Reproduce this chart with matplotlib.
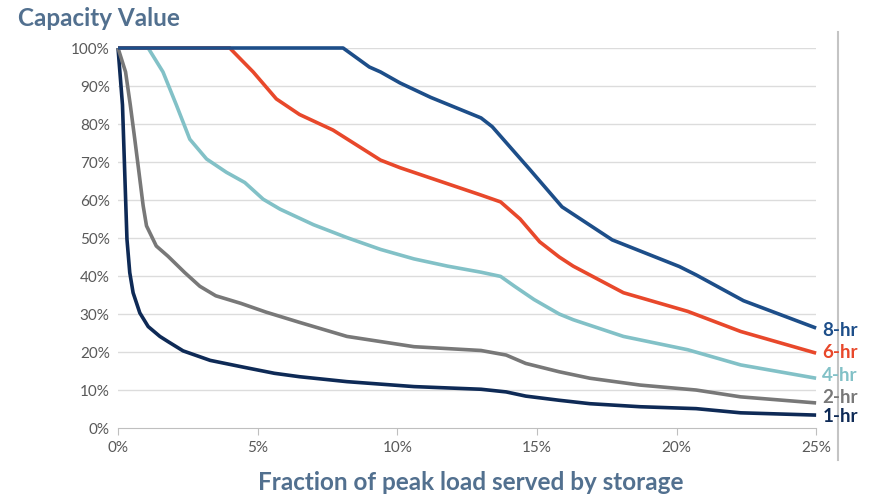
import matplotlib.pyplot as plt
from matplotlib.lines import Line2D

plt.rcParams['font.family'] = ['Lato', 'DejaVu Sans']

# fraction of peak load served (%) and capacity value (%) per duration
x_1hr = [0, 0.16, 0.24, 0.32, 0.42, 0.54, 0.78, 1.08, 1.5, 1.8, 2.33, 3.3, 4.5,
         5.6, 6.5, 8.2, 10.6, 13.0, 13.9, 14.6, 15.8, 16.9, 18.7, 20.7, 22.3, 25]
y_1hr = [100, 85, 67.3, 49.7, 40.9, 35.6, 30.3, 26.7, 24.1, 22.7, 20.3, 17.8, 16,
         14.4, 13.5, 12.2, 10.9, 10.2, 9.5, 8.4, 7.3, 6.4, 5.6, 5.1, 4.0, 3.4]

x_2hr = [0, 0.27, 0.44, 0.6, 0.75, 0.9, 1.02, 1.37, 1.79, 2.39, 2.93, 3.5, 4.4,
         5.3, 6.5, 8.2, 10.6, 13.0, 13.9, 14.6, 15.8, 16.9, 18.7, 20.7, 22.3, 25]
y_2hr = [100, 93.7, 85, 76, 67.3, 58.5, 53.2, 47.9, 45.2, 40.9, 37.3, 34.8, 32.8,
         30.5, 27.8, 24.1, 21.4, 20.4, 19.2, 17, 14.8, 13.1, 11.3, 10, 8.2, 6.6]

x_4hr = [0, 1.08, 1.61, 2.09, 2.57, 3.17, 3.88, 4.54, 5.2, 5.8, 7.0, 8.2, 9.4,
         10.6, 11.8, 13.0, 13.7, 14.2, 14.9, 15.8, 16.3, 18.1, 20.4, 22.3, 25]
y_4hr = [100, 100, 93.7, 85, 76, 70.8, 67.3, 64.6, 60.2, 57.6, 53.5, 50.1, 47,
         44.5, 42.6, 41, 39.9, 37.3, 33.8, 30, 28.5, 24.1, 20.6, 16.6, 13.1]

x_6hr = [0, 4.0, 4.84, 5.67, 6.5, 7.7, 9.4, 10.1, 13.0, 13.7, 14.4, 15.1, 15.8,
         16.3, 18.1, 20.4, 22.3, 25]
y_6hr = [100, 100, 93.7, 86.6, 82.5, 78.4, 70.5, 68.5, 61.3, 59.5, 55, 49, 45,
         42.6, 35.6, 30.7, 25.4, 19.7]

x_8hr = [0, 8.06, 9.0, 9.4, 10.1, 11.2, 13.0, 13.4, 14.75, 15.9, 17.7, 20.1,
         20.7, 22.4, 25]
y_8hr = [100, 100, 95, 93.7, 90.8, 87, 81.6, 79.3, 68, 58.2, 49.5, 42.5,
         40.3, 33.5, 26.3]

labels = ['8-hr', '6-hr', '4-hr', '2-hr', '1-hr']
label_y = [25.6, 19.8, 13.9, 8.1, 3.1]
colors = ['#1d4e89', '#e8482b', '#82c1c7', '#787878', '#0e2a56']
series = [(x_8hr, y_8hr), (x_6hr, y_6hr), (x_4hr, y_4hr), (x_2hr, y_2hr), (x_1hr, y_1hr)]

xticks = [0, 5, 10, 15, 20, 25]
yticks = list(range(0, 101, 10))

title_color = '#52708f'
tick_color = '#595959'

fig = plt.figure(figsize=(8.71, 4.97), dpi=100)
ax = fig.add_axes([0.1355, 0.1388, 0.8015, 0.7646])

for y in yticks[1:]:
    ax.axhline(y, color='#dcdcdc', lw=1.0, zorder=0)

# thin border line on the right, drawn behind the labels
fig.add_artist(Line2D([0.962, 0.962], [0.0744, 0.9356], color='#c4c4c4', lw=1.5,
                      transform=fig.transFigure, zorder=0))

for (xs, ys), c in zip(series[::-1], colors[::-1]):
    ax.plot(xs, ys, color=c, lw=2.6, solid_capstyle='butt', solid_joinstyle='round',
            clip_on=False, zorder=3)

for lab, ly, c in zip(labels, label_y, colors):
    ax.text(25.22, ly, lab, color=c, fontsize=13.5, fontweight='bold',
            va='center', ha='left', zorder=5)

ax.set_xlim(0, 25)
ax.set_ylim(0, 100)
ax.set_xticks(xticks)
ax.set_xticklabels([f'{t}%' for t in xticks])
ax.set_yticks(yticks)
ax.set_yticklabels([f'{t}%' for t in yticks])
ax.tick_params(axis='x', colors='#bfbfbf', labelcolor=tick_color, labelsize=11,
               length=5, direction='out', pad=4)
ax.tick_params(axis='y', length=0, labelcolor=tick_color, labelsize=11, pad=6)
for s in ['top', 'right', 'left']:
    ax.spines[s].set_visible(False)
ax.spines['bottom'].set_color('#bfbfbf')

fig.text(0.021, 0.962, 'Capacity Value', color=title_color, fontsize=17.5,
         fontweight='bold', ha='left', va='center')
fig.text(0.541, 0.03, 'Fraction of peak load served by storage', color=title_color,
         fontsize=17.5, fontweight='bold', ha='center', va='center')

fig.savefig('out.png', dpi=100)
